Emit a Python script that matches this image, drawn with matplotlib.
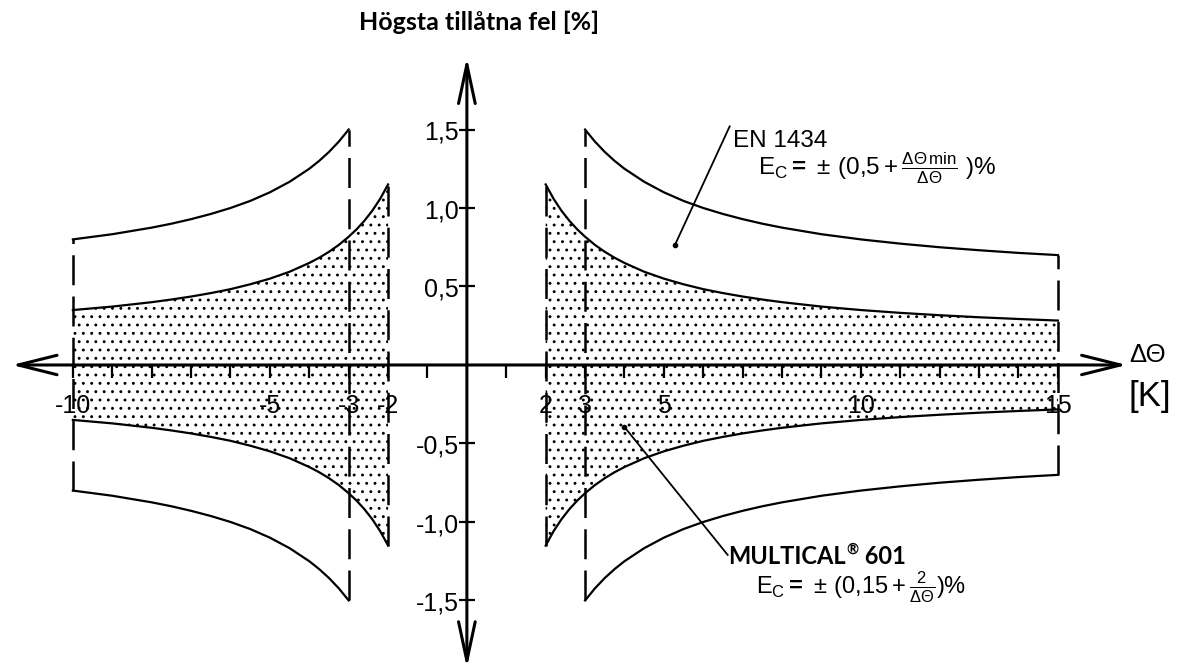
import numpy as np
import matplotlib.pyplot as plt

plt.rcParams['font.family'] = ['Liberation Sans', 'DejaVu Sans']
plt.rcParams['mathtext.fontset'] = 'custom'
plt.rcParams['mathtext.rm'] = 'Liberation Sans'
plt.rcParams['mathtext.it'] = 'Liberation Sans:italic'
plt.rcParams['mathtext.bf'] = 'Liberation Sans:bold'
plt.rcParams['hatch.linewidth'] = 0.9

# temperature difference [K] and max permissible error [%]
dt_mc = [2, 2.2, 2.4, 2.6, 2.8, 3, 3.25, 3.5, 3.75, 4, 4.5, 5, 5.5, 6, 6.5,
         7, 7.5, 8, 9, 10, 11, 12, 13, 14, 15]
err_mc = [1.15, 1.059, 0.983, 0.919, 0.864, 0.817, 0.765, 0.721, 0.683, 0.65,
          0.594, 0.55, 0.514, 0.483, 0.458, 0.436, 0.417, 0.40, 0.372, 0.35,
          0.332, 0.317, 0.304, 0.293, 0.283]
dt_en = [3, 3.25, 3.5, 3.75, 4, 4.5, 5, 5.5, 6, 6.5, 7, 7.5, 8, 9, 10, 11, 12,
         13, 14, 15]
err_en = [1.5, 1.423, 1.357, 1.30, 1.25, 1.167, 1.10, 1.045, 1.0, 0.962, 0.929,
          0.90, 0.875, 0.833, 0.80, 0.773, 0.75, 0.731, 0.714, 0.70]
left_limit = 10   # negative branch stops at -10 K

xticks_left = [-10, -5, -3, -2]
xticks_right = [2, 3, 5, 10, 15]
yticks = [-1.5, -1.0, -0.5, 0.5, 1.0, 1.5]

fig = plt.figure(figsize=(11.8, 6.7), dpi=100)
ax = fig.add_axes([0, 0, 1, 1])
ax.set_xlim(-11.85, 18.1)
ax.set_ylim(-1.943, 2.325)
ax.axis('off')

dash = (0, (12, 4.5))
curve = dict(color='black', lw=1.6, solid_joinstyle='round')

def branch(x, y, sign):
    x = np.array(x, dtype=float)
    y = np.array(y, dtype=float)
    if sign < 0:
        keep = x <= left_limit
        x, y = -x[keep], y[keep]
    return x, y

for sign in (1, -1):
    x, y = branch(dt_mc, err_mc, sign)
    ax.fill_between(x, -y, y, facecolor='none', edgecolor='black', hatch='..', lw=0)
    ax.plot(x, y, **curve)
    ax.plot(x, -y, **curve)
    ax.vlines(x[0], -y[0], y[0], colors='black', lw=1.8, linestyles=dash)

    x2, y2 = branch(dt_en, err_en, sign)
    ax.plot(x2, y2, **curve)
    ax.plot(x2, -y2, **curve)
    ax.vlines(x2[0], -y2[0], y2[0], colors='black', lw=1.8, linestyles=dash)
    ax.vlines(x2[-1], -y2[-1], y2[-1], colors='black', lw=1.8, linestyles=dash)

# axes with open arrow heads
arrow = dict(arrowstyle='<->,head_length=1.4,head_width=0.35', lw=2.2,
             color='black', mutation_scale=20, shrinkA=0, shrinkB=0)
ax.annotate('', xy=(16.75, 0), xytext=(-11.55, 0), arrowprops=arrow)
arrow_y = dict(arrow, arrowstyle='<->,head_length=1.4,head_width=0.3')
ax.annotate('', xy=(0, 1.96), xytext=(0, -1.93), arrowprops=arrow_y)

# ticks
xt = [i for i in range(-10, 16) if i != 0]
ax.vlines(xt, -0.085, 0, colors='black', lw=1.6)
ax.hlines(yticks, -0.2, 0.2, colors='black', lw=1.6)

for v in xticks_left + xticks_right:
    ax.text(v, -0.305, str(v), ha='center', va='baseline', fontsize=18)
for v in yticks:
    ax.text(-0.2, v - 0.066, f'{v:.1f}'.replace('.', ','), ha='right',
            va='baseline', fontsize=18)

ax.text(16.8, 0.065, 'ΔΘ', ha='left', va='center', fontsize=18.5)
ax.text(16.8, -0.2, '[K]', ha='left', va='center', fontsize=25)

ax.text(0.3, 2.18, 'Högsta tillåtna fel [%]', ha='center', va='center',
        fontsize=18, fontweight='bold', family='Lato')

# EN 1434 callout
ax.plot([5.28, 6.67], [0.764, 1.52], color='black', lw=1.3)
ax.plot(5.28, 0.764, 'o', color='black', ms=3)
ax.text(6.75, 1.39, 'EN 1434', ha='left', va='baseline', fontsize=17.5)
ax.text(7.4, 1.255, r'$\mathrm{E}_{\mathrm{C}}\mathbf{=}\,\pm\,(0{,}5+\frac{\Delta\Theta\,\mathrm{min}}{\Delta\Theta}\ )\%$',
        ha='left', va='center', fontsize=17.5)

# MULTICAL callout
ax.plot([4.0, 6.62], [-0.395, -1.21], color='black', lw=1.3)
ax.plot(4.0, -0.395, 'o', color='black', ms=3)
t1 = ax.text(6.62, -1.265, 'MULTICAL', ha='left', va='baseline', fontsize=17,
             fontweight='bold', family='Lato')
t2 = ax.annotate('®', xy=(1, 1), xycoords=t1, xytext=(1, 1),
                 textcoords='offset points', ha='left', va='top', fontsize=10.5,
                 fontweight='bold', family='Lato')
ax.annotate(' 601', xy=(1, 0), xycoords=(t2, t1), ha='left', va='bottom',
            fontsize=17, fontweight='bold', family='Lato')
ax.text(7.35, -1.415, r'$\mathrm{E}_{\mathrm{C}}\mathbf{=}\,\pm\,(0{,}15+\frac{2}{\Delta\Theta})\%$',
        ha='left', va='center', fontsize=17)

fig.savefig('out.png', dpi=100)
